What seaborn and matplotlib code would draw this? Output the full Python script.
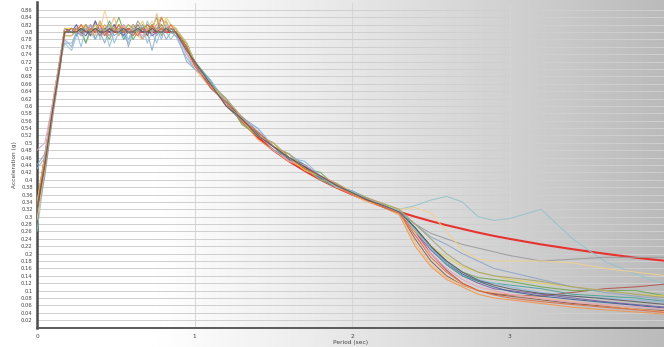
import numpy as np
import pandas as pd
import matplotlib
matplotlib.use("Agg")
import matplotlib.pyplot as plt
import seaborn as sns
from matplotlib.ticker import MultipleLocator, FuncFormatter

# ---------------- data ----------------
period_head = [0.0, 0.05, 0.10, 0.15, 0.175]
period_plateau = [0.22, 0.25, 0.28, 0.31, 0.34, 0.37, 0.40, 0.43, 0.46, 0.49, 0.52, 0.55,
                  0.58, 0.61, 0.64, 0.67, 0.70, 0.73, 0.76, 0.79, 0.82, 0.85, 0.88]
period_tail = [0.95, 1.0, 1.1, 1.2, 1.3, 1.4, 1.5, 1.6, 1.7, 1.8, 1.9, 2.0, 2.1, 2.2, 2.3,
               2.4, 2.5, 2.6, 2.7, 2.8, 2.9, 3.0, 3.2, 3.4, 3.6, 3.8, 4.0]
periods = period_head + period_plateau + period_tail

target = [0.33, 0.46, 0.60, 0.73, 0.80] + [0.80] * 23 + \
         [0.757, 0.72, 0.66, 0.61, 0.558, 0.516, 0.48, 0.45, 0.424, 0.40, 0.379, 0.36, 0.343, 0.327, 0.313,
          0.30, 0.288, 0.277, 0.267, 0.257, 0.248, 0.24, 0.225, 0.212, 0.20, 0.189, 0.18]

rec01 = [0.26, 0.42, 0.58, 0.72, 0.77,
         0.75, 0.79, 0.81, 0.77, 0.80, 0.83, 0.78, 0.81, 0.76, 0.80, 0.82, 0.79, 0.77, 0.81, 0.80, 0.78, 0.83, 0.80, 0.77, 0.81, 0.80, 0.78, 0.80,
         0.74, 0.70, 0.67, 0.60, 0.57, 0.52, 0.50, 0.46, 0.44, 0.40, 0.39, 0.36, 0.35, 0.335, 0.32,
         0.33, 0.345, 0.355, 0.34, 0.30, 0.29, 0.295, 0.32, 0.24, 0.18, 0.145, 0.115]
rec02 = [0.30, 0.41, 0.57, 0.71, 0.80,
         0.80, 0.82, 0.79, 0.81, 0.80, 0.83, 0.80, 0.79, 0.81, 0.80, 0.82, 0.79, 0.81, 0.80, 0.83, 0.81, 0.80, 0.82, 0.79, 0.81, 0.80, 0.81, 0.80,
         0.77, 0.72, 0.65, 0.62, 0.56, 0.53, 0.48, 0.47, 0.43, 0.41, 0.38, 0.37, 0.345, 0.33, 0.31,
         0.28, 0.255, 0.24, 0.225, 0.215, 0.205, 0.195, 0.18, 0.185, 0.19, 0.19, 0.19]
rec03 = [0.33, 0.46, 0.60, 0.73, 0.80,
         0.81, 0.80, 0.82, 0.80, 0.79, 0.81, 0.80, 0.86, 0.81, 0.80, 0.82, 0.80, 0.81, 0.79, 0.82, 0.80, 0.81, 0.83, 0.80, 0.82, 0.81, 0.80, 0.81,
         0.75, 0.71, 0.66, 0.60, 0.56, 0.52, 0.49, 0.45, 0.44, 0.41, 0.39, 0.37, 0.35, 0.335, 0.32,
         0.325, 0.31, 0.26, 0.21, 0.185, 0.18, 0.18, 0.18, 0.175, 0.16, 0.15, 0.14]
rec04 = [0.31, 0.44, 0.59, 0.72, 0.81,
         0.80, 0.81, 0.80, 0.82, 0.80, 0.81, 0.79, 0.81, 0.80, 0.82, 0.80, 0.81, 0.80, 0.79, 0.81, 0.80, 0.82, 0.81, 0.80, 0.84, 0.81, 0.80, 0.80,
         0.76, 0.72, 0.65, 0.61, 0.57, 0.53, 0.49, 0.46, 0.43, 0.41, 0.385, 0.36, 0.345, 0.325, 0.31,
         0.26, 0.20, 0.155, 0.12, 0.10, 0.092, 0.088, 0.085, 0.095, 0.105, 0.11, 0.118]
rec05 = [0.32, 0.45, 0.60, 0.73, 0.79,
         0.79, 0.81, 0.80, 0.77, 0.81, 0.80, 0.83, 0.80, 0.78, 0.81, 0.84, 0.80, 0.81, 0.78, 0.80, 0.82, 0.80, 0.81, 0.84, 0.79, 0.81, 0.80, 0.79,
         0.77, 0.71, 0.66, 0.62, 0.55, 0.52, 0.50, 0.46, 0.43, 0.42, 0.38, 0.365, 0.35, 0.33, 0.315,
         0.27, 0.22, 0.18, 0.15, 0.135, 0.13, 0.125, 0.11, 0.10, 0.10, 0.10, 0.085]
rec06 = [0.44, 0.47, 0.60, 0.73, 0.78,
         0.76, 0.80, 0.79, 0.81, 0.80, 0.82, 0.80, 0.77, 0.81, 0.79, 0.80, 0.82, 0.76, 0.80, 0.81, 0.78, 0.80, 0.75, 0.80, 0.81, 0.78, 0.80, 0.80,
         0.72, 0.70, 0.67, 0.61, 0.57, 0.54, 0.49, 0.47, 0.44, 0.41, 0.39, 0.36, 0.345, 0.335, 0.315,
         0.28, 0.245, 0.225, 0.20, 0.18, 0.16, 0.15, 0.13, 0.11, 0.095, 0.085, 0.075]
rec07 = [0.34, 0.45, 0.59, 0.72, 0.80,
         0.80, 0.81, 0.80, 0.82, 0.79, 0.81, 0.80, 0.82, 0.80, 0.81, 0.79, 0.82, 0.80, 0.81, 0.80, 0.82, 0.81, 0.80, 0.82, 0.84, 0.81, 0.82, 0.81,
         0.76, 0.72, 0.66, 0.60, 0.56, 0.51, 0.48, 0.45, 0.43, 0.40, 0.38, 0.36, 0.34, 0.325, 0.305,
         0.22, 0.165, 0.13, 0.11, 0.09, 0.08, 0.075, 0.065, 0.055, 0.048, 0.042, 0.036]
rec08 = [0.31, 0.43, 0.58, 0.72, 0.80,
         0.81, 0.80, 0.81, 0.80, 0.82, 0.80, 0.81, 0.80, 0.79, 0.81, 0.80, 0.81, 0.80, 0.82, 0.80, 0.81, 0.79, 0.81, 0.80, 0.81, 0.80, 0.81, 0.80,
         0.76, 0.71, 0.66, 0.61, 0.57, 0.53, 0.49, 0.46, 0.435, 0.41, 0.385, 0.365, 0.345, 0.33, 0.31,
         0.24, 0.18, 0.14, 0.115, 0.10, 0.09, 0.085, 0.075, 0.065, 0.058, 0.05, 0.045]
rec09 = [0.33, 0.45, 0.59, 0.73, 0.81,
         0.80, 0.82, 0.80, 0.81, 0.79, 0.83, 0.80, 0.81, 0.80, 0.82, 0.80, 0.79, 0.81, 0.80, 0.82, 0.80, 0.81, 0.79, 0.80, 0.82, 0.80, 0.81, 0.80,
         0.75, 0.72, 0.65, 0.61, 0.56, 0.52, 0.50, 0.46, 0.44, 0.41, 0.39, 0.365, 0.35, 0.33, 0.312,
         0.26, 0.21, 0.17, 0.14, 0.12, 0.105, 0.10, 0.09, 0.08, 0.07, 0.062, 0.055]
rec10 = [0.32, 0.44, 0.59, 0.72, 0.80,
         0.80, 0.81, 0.80, 0.79, 0.81, 0.80, 0.80, 0.81, 0.80, 0.81, 0.80, 0.80, 0.81, 0.80, 0.80, 0.81, 0.80, 0.80, 0.81, 0.80, 0.80, 0.81, 0.80,
         0.76, 0.71, 0.66, 0.61, 0.565, 0.525, 0.49, 0.455, 0.435, 0.405, 0.385, 0.365, 0.345, 0.33, 0.313,
         0.27, 0.22, 0.175, 0.145, 0.125, 0.11, 0.098, 0.085, 0.076, 0.068, 0.06, 0.052]
rec11 = [0.33, 0.45, 0.60, 0.74, 0.80,
         0.81, 0.79, 0.81, 0.80, 0.82, 0.78, 0.81, 0.80, 0.83, 0.80, 0.81, 0.78, 0.80, 0.82, 0.80, 0.81, 0.80, 0.82, 0.80, 0.81, 0.83, 0.80, 0.81,
         0.77, 0.72, 0.67, 0.60, 0.56, 0.53, 0.48, 0.46, 0.44, 0.40, 0.38, 0.37, 0.35, 0.33, 0.315,
         0.27, 0.215, 0.17, 0.14, 0.125, 0.12, 0.115, 0.105, 0.09, 0.085, 0.08, 0.07]
rec12 = [0.29, 0.43, 0.58, 0.72, 0.79,
         0.79, 0.80, 0.82, 0.80, 0.81, 0.79, 0.83, 0.80, 0.81, 0.84, 0.80, 0.81, 0.80, 0.82, 0.79, 0.78, 0.81, 0.80, 0.85, 0.81, 0.83, 0.80, 0.80,
         0.75, 0.70, 0.65, 0.62, 0.57, 0.52, 0.49, 0.47, 0.43, 0.41, 0.39, 0.36, 0.34, 0.33, 0.31,
         0.23, 0.17, 0.135, 0.115, 0.10, 0.095, 0.09, 0.08, 0.07, 0.06, 0.05, 0.042]
rec13 = [0.34, 0.46, 0.61, 0.74, 0.81,
         0.81, 0.80, 0.82, 0.81, 0.80, 0.82, 0.81, 0.80, 0.82, 0.81, 0.80, 0.81, 0.82, 0.80, 0.81, 0.83, 0.80, 0.82, 0.81, 0.80, 0.84, 0.82, 0.81,
         0.77, 0.72, 0.66, 0.61, 0.56, 0.52, 0.50, 0.46, 0.425, 0.41, 0.38, 0.365, 0.35, 0.335, 0.315,
         0.26, 0.22, 0.19, 0.165, 0.15, 0.14, 0.13, 0.12, 0.11, 0.10, 0.09, 0.085]
rec14 = [0.48, 0.50, 0.61, 0.74, 0.80,
         0.80, 0.81, 0.79, 0.80, 0.82, 0.80, 0.81, 0.80, 0.79, 0.81, 0.80, 0.82, 0.80, 0.81, 0.80, 0.79, 0.81, 0.80, 0.82, 0.80, 0.81, 0.80, 0.80,
         0.74, 0.71, 0.66, 0.60, 0.57, 0.53, 0.48, 0.45, 0.44, 0.41, 0.385, 0.36, 0.35, 0.33, 0.31,
         0.25, 0.20, 0.16, 0.13, 0.11, 0.10, 0.09, 0.078, 0.068, 0.062, 0.056, 0.05]
rec15 = [0.43, 0.46, 0.60, 0.73, 0.77,
         0.77, 0.80, 0.76, 0.81, 0.80, 0.78, 0.81, 0.80, 0.82, 0.77, 0.80, 0.81, 0.78, 0.81, 0.80, 0.82, 0.77, 0.80, 0.81, 0.78, 0.82, 0.80, 0.79,
         0.73, 0.70, 0.67, 0.61, 0.56, 0.54, 0.49, 0.46, 0.45, 0.41, 0.38, 0.37, 0.345, 0.33, 0.315,
         0.265, 0.215, 0.175, 0.15, 0.13, 0.12, 0.11, 0.095, 0.085, 0.08, 0.075, 0.068]
rec16 = [0.32, 0.44, 0.59, 0.72, 0.80,
         0.80, 0.81, 0.80, 0.82, 0.80, 0.81, 0.80, 0.81, 0.82, 0.80, 0.81, 0.80, 0.82, 0.81, 0.80, 0.81, 0.82, 0.80, 0.81, 0.82, 0.80, 0.81, 0.80,
         0.76, 0.72, 0.66, 0.62, 0.57, 0.52, 0.49, 0.47, 0.43, 0.40, 0.39, 0.365, 0.35, 0.335, 0.32,
         0.28, 0.24, 0.20, 0.17, 0.15, 0.14, 0.135, 0.125, 0.11, 0.10, 0.09, 0.08]
rec17 = [0.33, 0.45, 0.59, 0.73, 0.80,
         0.81, 0.80, 0.82, 0.80, 0.81, 0.80, 0.82, 0.79, 0.81, 0.80, 0.82, 0.80, 0.81, 0.80, 0.79, 0.81, 0.80, 0.82, 0.80, 0.81, 0.80, 0.82, 0.80,
         0.76, 0.71, 0.65, 0.61, 0.56, 0.53, 0.49, 0.46, 0.43, 0.41, 0.385, 0.36, 0.345, 0.325, 0.31,
         0.25, 0.19, 0.15, 0.12, 0.10, 0.088, 0.08, 0.07, 0.062, 0.055, 0.048, 0.04]
rec18 = [0.32, 0.44, 0.59, 0.72, 0.80,
         0.80, 0.80, 0.81, 0.80, 0.80, 0.81, 0.80, 0.80, 0.81, 0.80, 0.80, 0.81, 0.80, 0.80, 0.81, 0.80, 0.80, 0.81, 0.80, 0.80, 0.81, 0.80, 0.80,
         0.75, 0.72, 0.66, 0.60, 0.565, 0.52, 0.49, 0.46, 0.435, 0.41, 0.385, 0.365, 0.345, 0.33, 0.313,
         0.27, 0.22, 0.18, 0.15, 0.128, 0.115, 0.105, 0.092, 0.085, 0.078, 0.07, 0.062]

records = [rec01, rec02, rec03, rec04, rec05, rec06, rec07, rec08, rec09,
           rec10, rec11, rec12, rec13, rec14, rec15, rec16, rec17, rec18]
record_colors = ["#92c4cb", "#9a9a9a", "#f2d08e", "#b5524a", "#6aa84f", "#8ea6c6",
                 "#f0954a", "#8c5a3c", "#7a5fa8", "#3f5f8f", "#4aa39b", "#f6b77a",
                 "#e3cf5a", "#e5a0c0", "#8fb8e0", "#a3a372", "#e0683f", "#5a5a5a"]

y_ticks = [round(0.02 * i, 2) for i in range(1, 44)]
x_ticks = [0, 1, 2, 3]

# ---------------- figure ----------------
sns.set_style("white")
plt.rcParams["font.family"] = ["DejaVu Sans"]

fig = plt.figure(figsize=(6.64, 3.47), dpi=100)

# gradient background over whole figure
bg = fig.add_axes([0, 0, 1, 1])
bg.set_axis_off()
g = np.linspace(0, 1, 400)
shade = 1 - 0.27 * np.clip((g - 0.22) / 0.78, 0, 1) ** 1.1
bg.imshow(shade[None, :], cmap="gray", vmin=0, vmax=1, aspect="auto",
          extent=[0, 1, 0, 1], interpolation="bilinear")

ax = fig.add_axes([37 / 664, 19.5 / 347, 627 / 664, 325 / 347])
ax.patch.set_alpha(0)

rows = []
for i, rec in enumerate(records):
    for p, v in zip(periods, rec):
        rows.append({"record": f"R{i+1:02d}", "period": p, "sa": v})
df = pd.DataFrame(rows)

# target spectrum underneath
sns.lineplot(x=periods, y=target, color="#e8322f", lw=1.5, ax=ax, sort=False, zorder=2)
sns.lineplot(data=df, x="period", y="sa", hue="record", palette=record_colors,
             estimator=None, sort=False, lw=0.75, alpha=0.9, legend=False, ax=ax, zorder=3)

ax.set_xlim(0, 3.98)
ax.set_ylim(0, 0.88)
ax.set_xticks(x_ticks)
ax.xaxis.set_minor_locator(MultipleLocator(0.25))
ax.set_yticks(y_ticks)
ax.yaxis.set_major_formatter(FuncFormatter(lambda v, p: f"{v:g}"))

ax.grid(axis="y", color="#cfcfcf", lw=0.7, zorder=0)
ax.grid(axis="x", which="major", color="#d6d6d6", lw=0.7, zorder=0)
ax.set_axisbelow(True)

for s in ["top", "right"]:
    ax.spines[s].set_visible(False)
ax.spines["left"].set_color("#4a4a4a")
ax.spines["left"].set_linewidth(1.8)
ax.spines["bottom"].set_color("#5a5a5a")
ax.spines["bottom"].set_linewidth(1.4)

ax.tick_params(axis="y", which="both", length=0, labelsize=3.8, pad=3, labelcolor="#444444")
ax.tick_params(axis="x", which="major", length=2.5, width=0.6, color="#888888",
               labelsize=4.2, pad=2.5, labelcolor="#444444")
ax.tick_params(axis="x", which="minor", length=2, width=0.5, color="#aaaaaa")

ax.set_xlabel("Period (sec)", fontsize=4.2, color="#444444", labelpad=0.5)
ax.set_ylabel("Acceleration (g)", fontsize=4.2, color="#444444", labelpad=3)

fig.savefig("out.png", dpi=100)
